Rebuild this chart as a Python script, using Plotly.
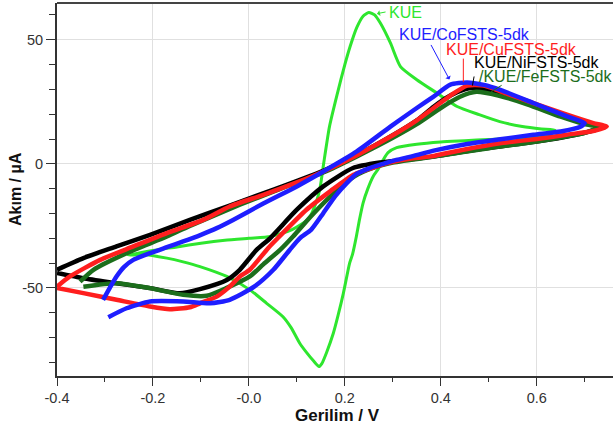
import plotly.graph_objects as go

# ---- data (potential V, current µA) ----
kue_v = [-0.252, -0.2, -0.15, -0.1, -0.05, 0.0, 0.045, 0.09, 0.125, 0.142, 0.149, 0.156, 0.168, 0.184, 0.2, 0.211,
         0.225, 0.238, 0.25, 0.262, 0.274, 0.295, 0.316, 0.35, 0.392, 0.434, 0.48, 0.523, 0.57, 0.61, 0.638,
         0.63, 0.592, 0.55, 0.5, 0.45, 0.4, 0.35, 0.308, 0.29, 0.28, 0.27, 0.259, 0.248, 0.238, 0.23, 0.224, 0.216,
         0.21, 0.197, 0.186, 0.176, 0.162, 0.152, 0.146, 0.135, 0.12, 0.106, 0.088, 0.071, 0.037, 0.002, -0.046,
         -0.102, -0.137, -0.171, -0.22, -0.252]
kue_i = [-36.8, -34.9, -33.5, -32.0, -30.8, -30.0, -29.3, -26.5, -22.0, -14.5, -9.0, 0.3, 15.0, 28.0, 40.0, 47.3,
         55.0, 59.5, 61.0, 60.0, 56.7, 48.7, 39.2, 33.9, 28.5, 23.1, 19.8, 17.0, 15.0, 14.0, 13.5,
         12.0, 11.0, 10.3, 9.8, 9.3, 8.8, 7.9, 6.5, 4.5, 1.6, -2.0, -5.1, -10.0, -15.8, -23.0, -29.3, -36.5,
         -40.0, -52.1, -61.0, -68.3, -76.0, -80.5, -81.7, -79.5, -76.0, -72.3, -66.0, -61.6, -56.2, -50.8, -45.4,
         -41.4, -39.5, -38.0, -36.5, -36.8]

ni_v = [-0.4, -0.345, -0.276, -0.206, -0.123, -0.04, 0.05, 0.155, 0.225, 0.3, 0.35, 0.385, 0.42, 0.45, 0.467, 0.5,
        0.55, 0.6, 0.65, 0.7, 0.738,
        0.7, 0.65, 0.6, 0.523, 0.45, 0.38, 0.335, 0.273, 0.217, 0.155, 0.1, 0.044, 0.016, -0.019, -0.046,
        -0.102, -0.144, -0.206, -0.276, -0.345, -0.4]
ni_i = [-42.7, -38.0, -33.3, -28.6, -22.6, -16.8, -10.5, -2.8, 3.5, 11.5, 17.5, 23.0, 27.5, 30.0, 30.5, 29.5,
        26.5, 23.0, 19.5, 16.5, 14.8,
        12.5, 10.5, 9.0, 7.0, 5.0, 2.8, 1.8, 0.5, -1.7, -9.1, -18.5, -30.0, -34.7, -42.7, -46.8,
        -50.5, -52.2, -50.1, -48.1, -46.1, -44.0]

fe_v = [-0.352, -0.324, -0.255, -0.171, -0.123, -0.019, 0.06, 0.155, 0.225, 0.3, 0.35, 0.4, 0.44, 0.474, 0.52,
        0.58, 0.65, 0.7, 0.73,
        0.7, 0.6, 0.5, 0.4, 0.3, 0.26, 0.22, 0.176, 0.13, 0.092, 0.065, 0.03, 0.002, -0.046, -0.088, -0.137,
        -0.206, -0.276, -0.345]
fe_i = [-47.5, -42.7, -36.0, -29.3, -25.0, -16.5, -10.5, -3.5, 3.0, 10.5, 16.0, 22.5, 27.0, 29.0, 27.5,
        24.0, 19.0, 16.0, 14.8,
        12.5, 9.0, 6.3, 3.3, 0.5, -1.5, -5.0, -12.0, -21.0, -29.3, -34.7, -40.5, -45.4, -50.0, -53.2, -52.8,
        -50.1, -48.1, -49.5]

cu_v = [-0.4, -0.373, -0.31, -0.241, -0.171, -0.095, -0.04, 0.03, 0.1, 0.155, 0.225, 0.3, 0.35, 0.385, 0.42,
        0.455, 0.49, 0.524, 0.593, 0.663, 0.718, 0.746,
        0.72, 0.662, 0.6, 0.523, 0.45, 0.38, 0.335, 0.3, 0.267, 0.218, 0.17, 0.12, 0.06, 0.04, 0.002, -0.019,
        -0.04, -0.067, -0.102, -0.123, -0.165, -0.206, -0.276, -0.345, -0.4]
cu_i = [-49.5, -45.4, -38.7, -33.3, -27.9, -22.6, -17.2, -12.5, -7.5, -3.1, 3.5, 11.5, 17.5, 22.5, 27.5,
        31.5, 31.5, 29.2, 24.5, 19.8, 16.4, 15.0,
        13.3, 11.7, 10.0, 8.3, 5.8, 3.0, 2.0, 0.8, -1.0, -4.4, -11.0, -18.5, -30.0, -34.0, -42.7, -45.4,
        -49.5, -53.5, -56.2, -57.8, -58.6, -57.5, -54.8, -52.1, -50.0]

co_v = [-0.304, -0.29, -0.276, -0.26, -0.241, -0.206, -0.171, -0.137, -0.1, -0.067, -0.033, 0.031, 0.1, 0.155,
        0.225, 0.295, 0.35, 0.385, 0.42, 0.455, 0.49, 0.524, 0.593, 0.663, 0.7,
        0.69, 0.65, 0.593, 0.52, 0.455, 0.39, 0.335, 0.3, 0.28, 0.252, 0.225, 0.204, 0.18, 0.155, 0.13, 0.106,
        0.085, 0.051, 0.011, -0.04, -0.081, -0.137, -0.206, -0.255, -0.293]
co_i = [-54.8, -50.0, -45.4, -41.5, -38.7, -36.0, -33.6, -31.3, -28.6, -25.9, -22.6, -15.9, -9.1, -3.1,
        5.0, 15.0, 22.5, 27.1, 31.9, 32.8, 31.8, 29.8, 24.5, 19.1, 16.4,
        14.8, 13.0, 11.7, 9.8, 8.0, 5.5, 2.8, 1.2, 0.0, -1.7, -4.0, -7.8, -13.0, -19.9, -26.5, -30.0,
        -34.7, -42.7, -49.5, -54.8, -56.2, -55.5, -55.5, -58.2, -61.8]

series_names = ["KUE", "KUE/NiFSTS-5dk", "KUE/FeFSTS-5dk", "KUE/CuFSTS-5dk", "KUE/CoFSTS-5dk"]
x_tickvals = [-0.4, -0.2, 0.0, 0.2, 0.4, 0.6]
x_ticktext = ["-0.4", "-0.2", "-0.0", "0.2", "0.4", "0.6"]
y_tickvals = [-50, 0, 50]
y_ticktext = ["-50", "0", "50"]

GREEN = "#2ee62e"
BLACK = "#000000"
DKGREEN = "#1c6e1c"
RED = "#ff1e1e"
BLUE = "#1e1eff"
FONT = "Liberation Sans, Arial, sans-serif"

fig = go.Figure()
curves = [(kue_v, kue_i, GREEN, 3), (ni_v, ni_i, BLACK, 4.5), (fe_v, fe_i, DKGREEN, 4.5),
          (cu_v, cu_i, RED, 4.5), (co_v, co_i, BLUE, 4.5)]
for (xv, yv, col, w), name in zip(curves, series_names):
    fig.add_trace(go.Scatter(x=xv, y=yv, mode="lines", name=name,
                             line=dict(color=col, width=w, shape="spline", smoothing=0.6)))

# labels
labels = [
    ("KUE", 0.290, 60.9, GREEN),
    ("KUE/CoFSTS-5dk", 0.311, 52.0, BLUE),
    ("KUE/CuFSTS-5dk", 0.409, 46.0, RED),
    ("KUE/NiFSTS-5dk", 0.468, 40.7, BLACK),
    ("/KUE/FeFSTS-5dk", 0.478, 35.1, DKGREEN),
]
for txt, x, y, col in labels:
    fig.add_annotation(x=x, y=y, text=txt, showarrow=False, xanchor="left", yanchor="middle",
                       borderpad=0, font=dict(family=FONT, size=16, color=col))

# pointer lines
pointers = [
    (0.288, 61.3, 0.267, 60.5, GREEN, 1),
    (0.378, 48.5, 0.418, 34.0, BLUE, 1),
    (0.447, 43.0, 0.447, 33.0, RED, 0),
    (0.470, 35.8, 0.466, 31.5, BLACK, 0),
    (0.530, 32.0, 0.505, 29.0, DKGREEN, 0),
]
for x0, y0, x1, y1, col, head in pointers:
    fig.add_annotation(x=x1, y=y1, ax=x0, ay=y0, axref="x", ayref="y", xref="x", yref="y",
                       text="", showarrow=True, arrowhead=1 if head else 0, arrowsize=1,
                       arrowwidth=1, arrowcolor=col)

# axis titles
fig.add_annotation(xref="paper", yref="paper", x=0.505, y=-0.105, text="<b>Gerilim / V</b>",
                   showarrow=False, xanchor="center", yanchor="middle",
                   font=dict(family=FONT, size=17, color="#111111"))
fig.add_annotation(xref="paper", yref="paper", x=-0.0746, y=0.5, text="<b>Akım / µA</b>",
                   showarrow=False, xanchor="center", yanchor="middle", textangle=-90,
                   font=dict(family=FONT, size=16, color="#111111"))

# top frame line
fig.add_shape(type="line", xref="paper", yref="paper", x0=0, x1=1, y0=1, y1=1,
              line=dict(color="#444444", width=2))

fig.update_layout(
    width=614, height=439,
    margin=dict(l=57, r=1, t=3, b=63, autoexpand=False),
    paper_bgcolor="white", plot_bgcolor="white",
    showlegend=False,
    font=dict(family=FONT, color="#333333"),
)
fig.update_xaxes(
    range=[-0.4, 0.759], tickmode="array", tickvals=x_tickvals, ticktext=x_ticktext,
    ticks="outside", ticklen=8, tickwidth=1, tickcolor="#333333",
    minor=dict(tickmode="linear", tick0=-0.4, dtick=0.1, ticks="outside", ticklen=4, tickcolor="#333333", showgrid=False),
    showline=True, linecolor="#333333", linewidth=2,
    showgrid=True, gridcolor="#e0e0e0", gridwidth=1, zeroline=False, automargin=False,
    tickfont=dict(family=FONT, size=14.5, color="#333333"),
)
fig.update_yaxes(
    range=[-85.5, 64.8], tickmode="array", tickvals=y_tickvals, ticktext=y_ticktext,
    ticks="outside", ticklen=9, tickwidth=1, tickcolor="#333333",
    minor=dict(tickmode="linear", tick0=0, dtick=10, ticks="outside", ticklen=6, tickcolor="#333333", showgrid=False),
    showline=True, linecolor="#333333", linewidth=2,
    showgrid=True, gridcolor="#e0e0e0", gridwidth=1, zeroline=False, automargin=False,
    tickfont=dict(family=FONT, size=14.5, color="#333333"),
)

fig.write_html("out.html", config={"displayModeBar": False},
               post_script="document.body.style.margin='0px';")
